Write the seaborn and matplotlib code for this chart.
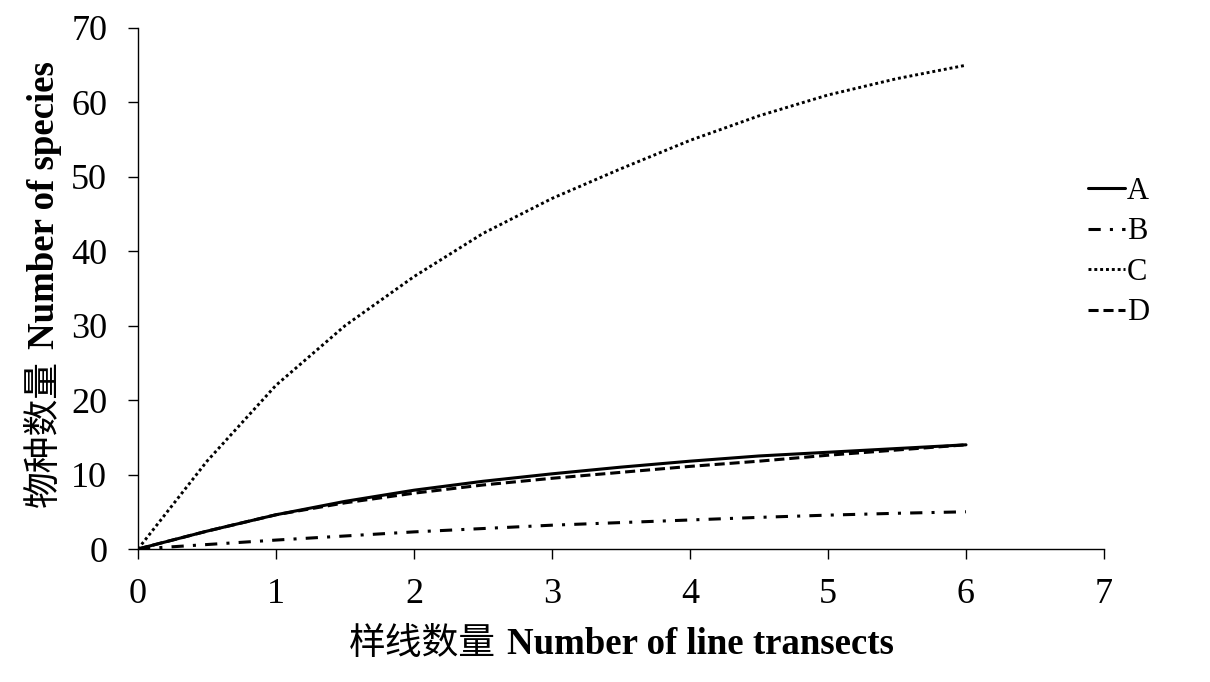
import matplotlib
matplotlib.use('Agg')
import matplotlib.pyplot as plt
import seaborn as sns

# number of line transects
transects = [0, 0.5, 1, 1.5, 2, 2.5, 3, 3.5, 4, 4.5, 5, 5.5, 6]

# species accumulation curves
species_a = [0, 2.4, 4.6, 6.4, 7.9, 9.1, 10.1, 11.0, 11.8, 12.5, 13.0, 13.5, 14.0]
species_b = [0, 0.6, 1.2, 1.75, 2.3, 2.75, 3.2, 3.55, 3.9, 4.25, 4.55, 4.8, 5.0]
species_c = [0, 11.8, 22.0, 30.0, 36.6, 42.4, 47.1, 51.1, 54.9, 58.2, 61.0, 63.2, 65.0]
species_d = [0, 2.4, 4.6, 6.2, 7.5, 8.6, 9.5, 10.3, 11.1, 11.8, 12.6, 13.3, 14.0]

labels = ['A', 'B', 'C', 'D']
x_ticks = [0, 1, 2, 3, 4, 5, 6, 7]
y_ticks = [0, 10, 20, 30, 40, 50, 60, 70]

sns.set_style('ticks')
plt.rcParams['font.family'] = ['Liberation Serif', 'Noto Sans CJK SC']
plt.rcParams['axes.linewidth'] = 1.0
plt.rcParams['text.color'] = 'black'

fig = plt.figure(figsize=(12.1, 6.82), dpi=100)
ax = fig.add_axes([138 / 1210, 1 - 549 / 682, 966 / 1210, 521 / 682])

styles = [
    ('-', 2.2),
    ((0, (4, 3, 1, 3)), 2.2),
    ((0, (1, 1)), 2.1),
    ((0, (3.3, 1.6)), 2.2),
]
series = [species_a, species_b, species_c, species_d]
for vals, lab, (ls, lw) in zip(series, labels, styles):
    sns.lineplot(x=transects, y=vals, color='black', linestyle=ls,
                 linewidth=lw, label=lab, ax=ax)

ax.set_xlim(0, 7)
ax.set_ylim(0, 70)
ax.set_xticks(x_ticks)
ax.set_yticks(y_ticks)
ax.tick_params(axis='both', direction='out', length=7.2, width=1.0,
               color='black', labelsize=26, labelcolor='black')
ax.tick_params(axis='x', pad=14)
ax.tick_params(axis='y', pad=15)
for s in ['left', 'bottom']:
    ax.spines[s].set_color('black')
sns.despine(ax=ax)
ax.set_xlabel('')
ax.set_ylabel('')

ax.legend(loc='center left', bbox_to_anchor=(1088 / 1210, 1 - 252 / 682),
          bbox_transform=fig.transFigure, frameon=False, fontsize=22,
          handlelength=1.2, handletextpad=0.08, labelspacing=0.38,
          borderpad=0, borderaxespad=0)

# axis titles: regular Chinese part + bold English part
cjk = ['Noto Sans CJK SC']
serif = ['Liberation Serif']
fs = 26.5
xl_cn = fig.text(0, 0, '样线数量', fontsize=fs, family=cjk, va='baseline')
xl_en = fig.text(0, 0, 'Number of line transects', fontsize=fs, family=serif,
                 fontweight='bold', va='baseline')
yl_cn = fig.text(0, 0, '物种数量', fontsize=fs, family=cjk, rotation=90,
                 va='baseline', ha='right', rotation_mode='anchor')
yl_en = fig.text(0, 0, 'Number of species', fontsize=fs, family=serif,
                 fontweight='bold', rotation=90, va='baseline', ha='left',
                 rotation_mode='anchor')

fig.canvas.draw()
gap = 11
w_cn = xl_cn.get_window_extent().width
w_en = xl_en.get_window_extent().width
x0 = 621 - (w_cn + gap + w_en) / 2
base_y = 1 - 654 / 682
xl_cn.set_position((x0 / 1210, base_y))
xl_en.set_position(((x0 + w_cn + gap) / 1210, base_y))

h_cn = yl_cn.get_window_extent().height
h_en = yl_en.get_window_extent().height
y0 = 284 + (h_cn + gap + h_en) / 2  # bottom in image pixels
y_split = y0 - h_cn
base_x = 54 / 1210
yl_cn.set_position((base_x, 1 - y_split / 682))
yl_en.set_position((base_x, 1 - (y_split - gap) / 682))

fig.savefig('out.png', dpi=100)
plt.close(fig)
